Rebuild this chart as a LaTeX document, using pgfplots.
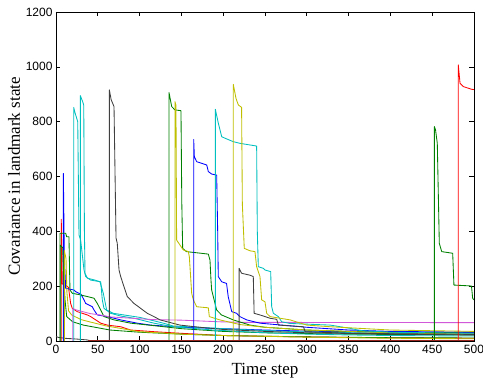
\documentclass[border=0pt]{standalone}
\usepackage{fontspec}
\setmainfont{Liberation Serif}
\setsansfont{Liberation Sans}
\usepackage{pgfplots}
\pgfplotsset{compat=1.18}
\definecolor{mb}{rgb}{0,0,1}
\definecolor{mg}{rgb}{0,0.5,0}
\definecolor{mr}{rgb}{1,0,0}
\definecolor{mc}{rgb}{0,0.75,0.75}
\definecolor{mm}{rgb}{0.82,0.35,0.85}
\definecolor{my}{rgb}{0.75,0.75,0}
\definecolor{mk}{rgb}{0.25,0.25,0.25}
\definecolor{mbr}{rgb}{0.6,0.15,0.12}
\begin{document}
\begin{tikzpicture}
\begin{axis}[
  scale only axis, width=418pt, height=329pt,
  xmin=0, xmax=500, ymin=0, ymax=1200,
  xtick={0,50,...,500}, ytick={0,200,...,1200},
  tick align=inside, major tick length=4.5pt,
  axis line style={line width=0.8pt}, tick style={black, line width=0.6pt},
  /pgf/number format/assume math mode=true,
  /pgf/number format/1000 sep={},
  tick label style={font=\sffamily\fontsize{12}{13}\selectfont},
  xticklabel style={yshift=-1pt},
  every axis y label/.style={at={(axis description cs:-0.1005,0.5)},rotate=90,anchor=center,font=\rmfamily\fontsize{17}{20}\selectfont},
  every axis x label/.style={at={(axis description cs:0.5,-0.0912)},anchor=center,font=\rmfamily\fontsize{17}{20}\selectfont},
  xlabel={Time step}, ylabel={Covariance in landmark state},
  every axis plot/.append style={line width=0.85pt, line join=round},
  clip=true,
]
% black near zero at start
\addplot[mk] coordinates {(0,16) (3,13) (10,10) (25,7) (37,4) (40,2)};
% red early
\addplot[mr] coordinates {(6.3,0) (6.3,444) (7.5,208) (11.6,204) (15,195) (16.5,160) (17.5,137) (19.5,119) (25.5,107) (37.5,95) (41.5,89) (47.5,77) (53.5,65) (61.4,58) (77.4,52) (89.4,40) (117,34) (150,28) (200,20) (250,17) (300,15) (350,13) (400,12) (450,11) (500,10)};
% blue early
\addplot[mb] coordinates {(8.8,0) (8.8,611) (10,300) (11.6,192) (21.5,186) (23.5,180) (30,170) (33.5,150) (35.5,137) (43.4,125) (45.5,113) (49.4,95) (61.4,89) (77.4,77) (97.2,65) (113.3,58) (150,50) (200,45) (250,40) (300,36) (340,34) (400,32) (500,30)};
% green early
\addplot[mg] coordinates {(4.8,0) (4.8,393) (11.6,393) (12.8,380) (15.5,380) (16.7,186) (19.5,174) (29.5,168) (45.5,156) (49.4,137) (53.5,113) (57.4,89) (69.4,77) (89.4,65) (120,55) (150,45) (200,35) (250,30) (300,27) (350,25) (400,24) (500,22)};
% green early 2
\addplot[mg] coordinates {(5,0) (5,350) (8,340) (9,250) (10.8,150) (12.8,89) (20,70) (32.7,58) (64.6,40) (100,32) (150,25) (200,20) (300,15) (400,12) (500,11)};
% yellow early
\addplot[my] coordinates {(10,0) (10,330) (12,300) (13,180) (15,110) (18.7,95) (30,78) (40,70) (60,55) (100,34) (150,25) (200,20) (300,14) (400,10) (500,8)};
% cyan 1
\addplot[mc] coordinates {(21.2,0) (21.2,852) (23,830) (26,800) (27.5,387) (29.5,368) (33.5,259) (35.5,235) (41.5,222) (53.5,216) (55.4,150) (57.4,119) (65.4,101) (77.4,91) (93.3,83) (117.2,65) (140,52) (188,40) (250,30) (300,25) (350,22) (400,20) (500,18)};
% cyan 2
\addplot[mc] coordinates {(29.1,0) (29.1,895) (31.9,873) (33.2,860) (34,400) (34.7,247) (37.5,229) (46.7,222) (52.6,216) (56.6,174) (60.6,113) (68.5,101) (100.5,86) (128.4,65) (140,55) (200,45) (250,38) (300,33) (400,28) (500,25)};
% magenta
\addplot[mm] coordinates {(20,0) (20,118) (24.7,113) (40.7,100) (52.6,95) (64.6,88) (116,78) (150,76) (196,70) (220,68) (500,67)};
% black 64
\addplot[mk] coordinates {(63.8,0) (63.8,916) (66,880) (69.4,855) (71.8,376) (73.3,356) (75.4,259) (77.4,235) (81.3,198) (85.3,162) (93.3,137) (101.3,119) (109.2,101) (117.2,89) (124.4,77) (148.3,58) (172.2,50) (200,42) (250,35) (300,30) (400,25) (500,22)};
% green 135
\addplot[mg] coordinates {(135.2,0) (135.2,906) (138.4,855) (142.3,843) (149.5,840) (150.5,500) (151.5,338) (156,326) (182.2,317) (184.2,295) (185.4,222) (186.2,186) (192.2,113) (198,95) (212,77) (232,58) (250,50) (300,40) (350,35) (400,32) (500,30)};
% yellow 142
\addplot[my] coordinates {(142.3,0) (142.3,873) (143.5,860) (144.3,368) (152.3,332) (158.3,326) (159.5,307) (162.3,174) (164.3,150) (168.3,125) (182.2,121) (183.4,89) (196,77) (220,60) (250,50) (300,40) (400,30) (500,25)};
% blue 164
\addplot[mb] coordinates {(164.7,0) (164.7,735) (165.5,672) (168.3,654) (174.3,648) (180.3,642) (182.2,618) (186.2,609) (192.2,605) (193.4,400) (194.1,235) (198.2,216) (204,210) (206,162) (210.2,107) (216.1,101) (220,89) (228,77) (244,65) (300,50) (350,40) (400,35) (500,32)};
% cyan 190
\addplot[mc] coordinates {(190.6,0) (190.6,845) (194.2,794) (198.2,745) (204.2,737) (212.1,727) (220,721) (232,715) (240,711) (240.8,400) (242,271) (248,265) (250,259) (256.8,253) (258,125) (260,101) (266,89) (270,70) (280,64) (328,58) (352,46) (364,38) (400,32) (500,28)};
% yellow 212
\addplot[my] coordinates {(212.1,0) (212.1,936) (215.3,885) (218.1,861) (222,852) (222.9,500) (225.2,338) (232,329) (238,326) (240,271) (244,235) (246,150) (250,143) (252,101) (256,89) (268,83) (280,77) (300,58) (328,52) (400,40) (500,35)};
% black 219
\addplot[mk] coordinates {(219,0) (219,265) (222,247) (232,240) (236,235) (237,101) (244,95) (256,83) (264,79) (266,58) (296,52) (298,34) (350,28) (500,24)};
% green 453
\addplot[mg] coordinates {(452.6,0) (452.6,782) (454,770) (456.1,721) (458.5,356) (461.4,326) (474.5,320) (476,204) (495.2,201) (497,200) (498.4,156) (500,150)};
% red 481
\addplot[mr] coordinates {(481.2,0) (481.2,1007) (483.3,940) (487.2,928) (497.2,918) (500,917)};
% brown bottom
\addplot[mbr, line width=1pt] coordinates {(38,3) (500,3)};
\end{axis}
\pgfresetboundingbox
\path (current axis.south west) ++(-56pt,-44pt) rectangle ++(483pt,385pt);
\end{tikzpicture}
\end{document}
